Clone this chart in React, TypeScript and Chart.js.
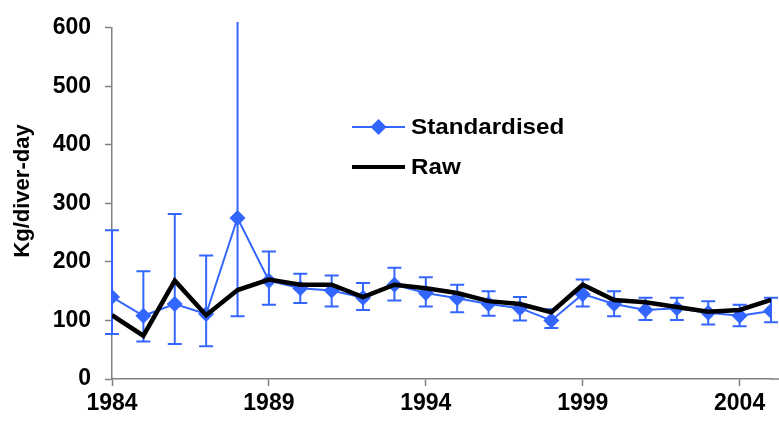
import React, { useEffect, useRef } from "react";
import { Chart, registerables } from "chart.js";

Chart.register(...registerables);

const years = [1984, 1985, 1986, 1987, 1988, 1989, 1990, 1991, 1992, 1993, 1994, 1995, 1996, 1997, 1998, 1999, 2000, 2001, 2002, 2003, 2004, 2005];
const standardised = [140, 108, 128, 111, 275, 168, 155, 151, 139, 161, 147, 138, 128, 121, 100, 145, 128, 118, 121, 113, 108, 116];
const stdUpper = [254, 184, 282, 211, 610, 218, 180, 177, 164, 190, 174, 161, 150, 140, 119, 170, 150, 139, 139, 133, 127, 139];
const stdLower = [77, 64, 60, 56, 107, 127, 130, 124, 118, 134, 124, 114, 108, 100, 87, 124, 107, 101, 101, 93, 90, 97];
const raw = [109, 74, 168, 109, 152, 170, 161, 161, 140, 161, 155, 147, 133, 128, 114, 161, 135, 131, 123, 115, 118, 135];
const xTickYears = [1984, 1989, 1994, 1999, 2004];
const yTicks = [0, 100, 200, 300, 400, 500, 600];
const yTitle = "Kg/diver-day";

const BLUE = "#3366FF";
const AXIS = "#808080";
const FONT = "'Liberation Sans', Arial, sans-serif";

const errorBarPlugin = {
  id: "errorBars",
  beforeDatasetsDraw(chart: any) {
    const { ctx, scales } = chart;
    const xs = scales.x;
    const ys = scales.y;
    ctx.save();
    ctx.strokeStyle = BLUE;
    ctx.lineWidth = 2;
    const cap = 7;
    years.forEach((yr, i) => {
      const x = xs.getPixelForValue(yr);
      const yt = ys.getPixelForValue(stdUpper[i]);
      const yb = ys.getPixelForValue(stdLower[i]);
      ctx.beginPath();
      ctx.moveTo(x, yt);
      ctx.lineTo(x, yb);
      if (stdUpper[i] <= ys.max) {
        ctx.moveTo(x - cap, yt);
        ctx.lineTo(x + cap, yt);
      }
      ctx.moveTo(x - cap, yb);
      ctx.lineTo(x + cap, yb);
      ctx.stroke();
    });
    ctx.restore();
  },
};

const extrasPlugin = {
  id: "extras",
  beforeDraw(chart: any) {
    const { ctx, chartArea, width } = chart;
    ctx.save();
    ctx.strokeStyle = AXIS;
    ctx.lineWidth = 1.5;
    ctx.beginPath();
    ctx.moveTo(chartArea.right, chartArea.bottom);
    ctx.lineTo(width, chartArea.bottom);
    ctx.stroke();
    ctx.fillStyle = "#000";
    ctx.font = `bold 22px ${FONT}`;
    ctx.textAlign = "center";
    ctx.textBaseline = "middle";
    ctx.translate(23, 191);
    ctx.rotate(-Math.PI / 2);
    ctx.fillText(yTitle, 0, 0);
    ctx.restore();
  },
  afterDraw(chart: any) {
    const { ctx } = chart;
    ctx.save();
    const x0 = 352;
    const x1 = 405;
    const y1 = 127;
    const y2 = 167;
    ctx.strokeStyle = BLUE;
    ctx.lineWidth = 2;
    ctx.beginPath();
    ctx.moveTo(x0, y1);
    ctx.lineTo(x1, y1);
    ctx.stroke();
    const cx = (x0 + x1) / 2;
    const r = 8;
    ctx.fillStyle = BLUE;
    ctx.beginPath();
    ctx.moveTo(cx, y1 - r);
    ctx.lineTo(cx + r, y1);
    ctx.lineTo(cx, y1 + r);
    ctx.lineTo(cx - r, y1);
    ctx.closePath();
    ctx.fill();
    ctx.strokeStyle = "#000";
    ctx.lineWidth = 4;
    ctx.beginPath();
    ctx.moveTo(x0, y2);
    ctx.lineTo(x1, y2);
    ctx.stroke();
    ctx.fillStyle = "#000";
    ctx.font = `bold 22px ${FONT}`;
    ctx.textBaseline = "middle";
    ctx.textAlign = "left";
    ctx.save();
    ctx.translate(411, y1);
    ctx.scale(1.1, 1);
    ctx.fillText("Standardised", 0, 1);
    ctx.restore();
    ctx.save();
    ctx.translate(411, y2);
    ctx.scale(1.1, 1);
    ctx.fillText("Raw", 0, 1);
    ctx.restore();
    ctx.restore();
  },
};

export default function App() {
  const ref = useRef<HTMLCanvasElement>(null);
  useEffect(() => {
    if (!ref.current) return;
    const chart = new Chart(ref.current, {
      type: "line",
      data: {
        datasets: [
          {
            label: "Raw",
            data: years.map((y, i) => ({ x: y, y: raw[i] })),
            borderColor: "#000",
            borderWidth: 4.5,
            pointRadius: 0,
            tension: 0,
            order: 0,
          },
          {
            label: "Standardised",
            data: years.map((y, i) => ({ x: y, y: standardised[i] })),
            borderColor: BLUE,
            backgroundColor: BLUE,
            borderWidth: 2,
            pointStyle: "rectRot",
            pointRadius: 8,
            pointBorderWidth: 0,
            pointBackgroundColor: BLUE,
            tension: 0,
            order: 1,
          },
        ],
      },
      options: {
        animation: false,
        responsive: false,
        maintainAspectRatio: false,
        layout: { padding: { top: 22, right: 7, left: 0, bottom: 0 } },
        plugins: {
          legend: { display: false },
          tooltip: { enabled: false },
        },
        scales: {
          x: {
            type: "linear",
            min: 1984,
            max: 2005,
            afterBuildTicks: (scale: any) => {
              scale.ticks = xTickYears.map((v) => ({ value: v }));
            },
            afterFit: (scale: any) => {
              scale.height = 51;
            },
            grid: {
              drawOnChartArea: false,
              drawTicks: true,
              tickLength: 7,
              tickWidth: 1.5,
              tickColor: AXIS,
            },
            border: { color: AXIS, width: 1.5 },
            ticks: {
              autoSkip: false,
              maxRotation: 0,
              padding: 4,
              color: "#000",
              font: { family: FONT, size: 23, weight: "bold" },
              callback: (v: any) => String(v),
            },
          },
          y: {
            min: 0,
            max: 600,
            afterBuildTicks: (scale: any) => {
              scale.ticks = yTicks.map((v) => ({ value: v }));
            },
            afterFit: (scale: any) => {
              scale.width = 112;
            },
            grid: {
              drawOnChartArea: false,
              drawTicks: true,
              tickLength: 7,
              tickWidth: 1.5,
              tickColor: AXIS,
            },
            border: { color: AXIS, width: 1.5 },
            ticks: {
              padding: 14,
              color: "#000",
              font: { family: FONT, size: 23, weight: "bold" },
            },
          },
        },
      },
      plugins: [errorBarPlugin, extrasPlugin],
    });
    return () => chart.destroy();
  }, []);
  return (
    <div style={{ position: "fixed", left: 0, top: 0, width: 779, height: 430, background: "#fff" }}>
      <canvas ref={ref} width={779} height={430} style={{ display: "block" }} />
    </div>
  );
}
